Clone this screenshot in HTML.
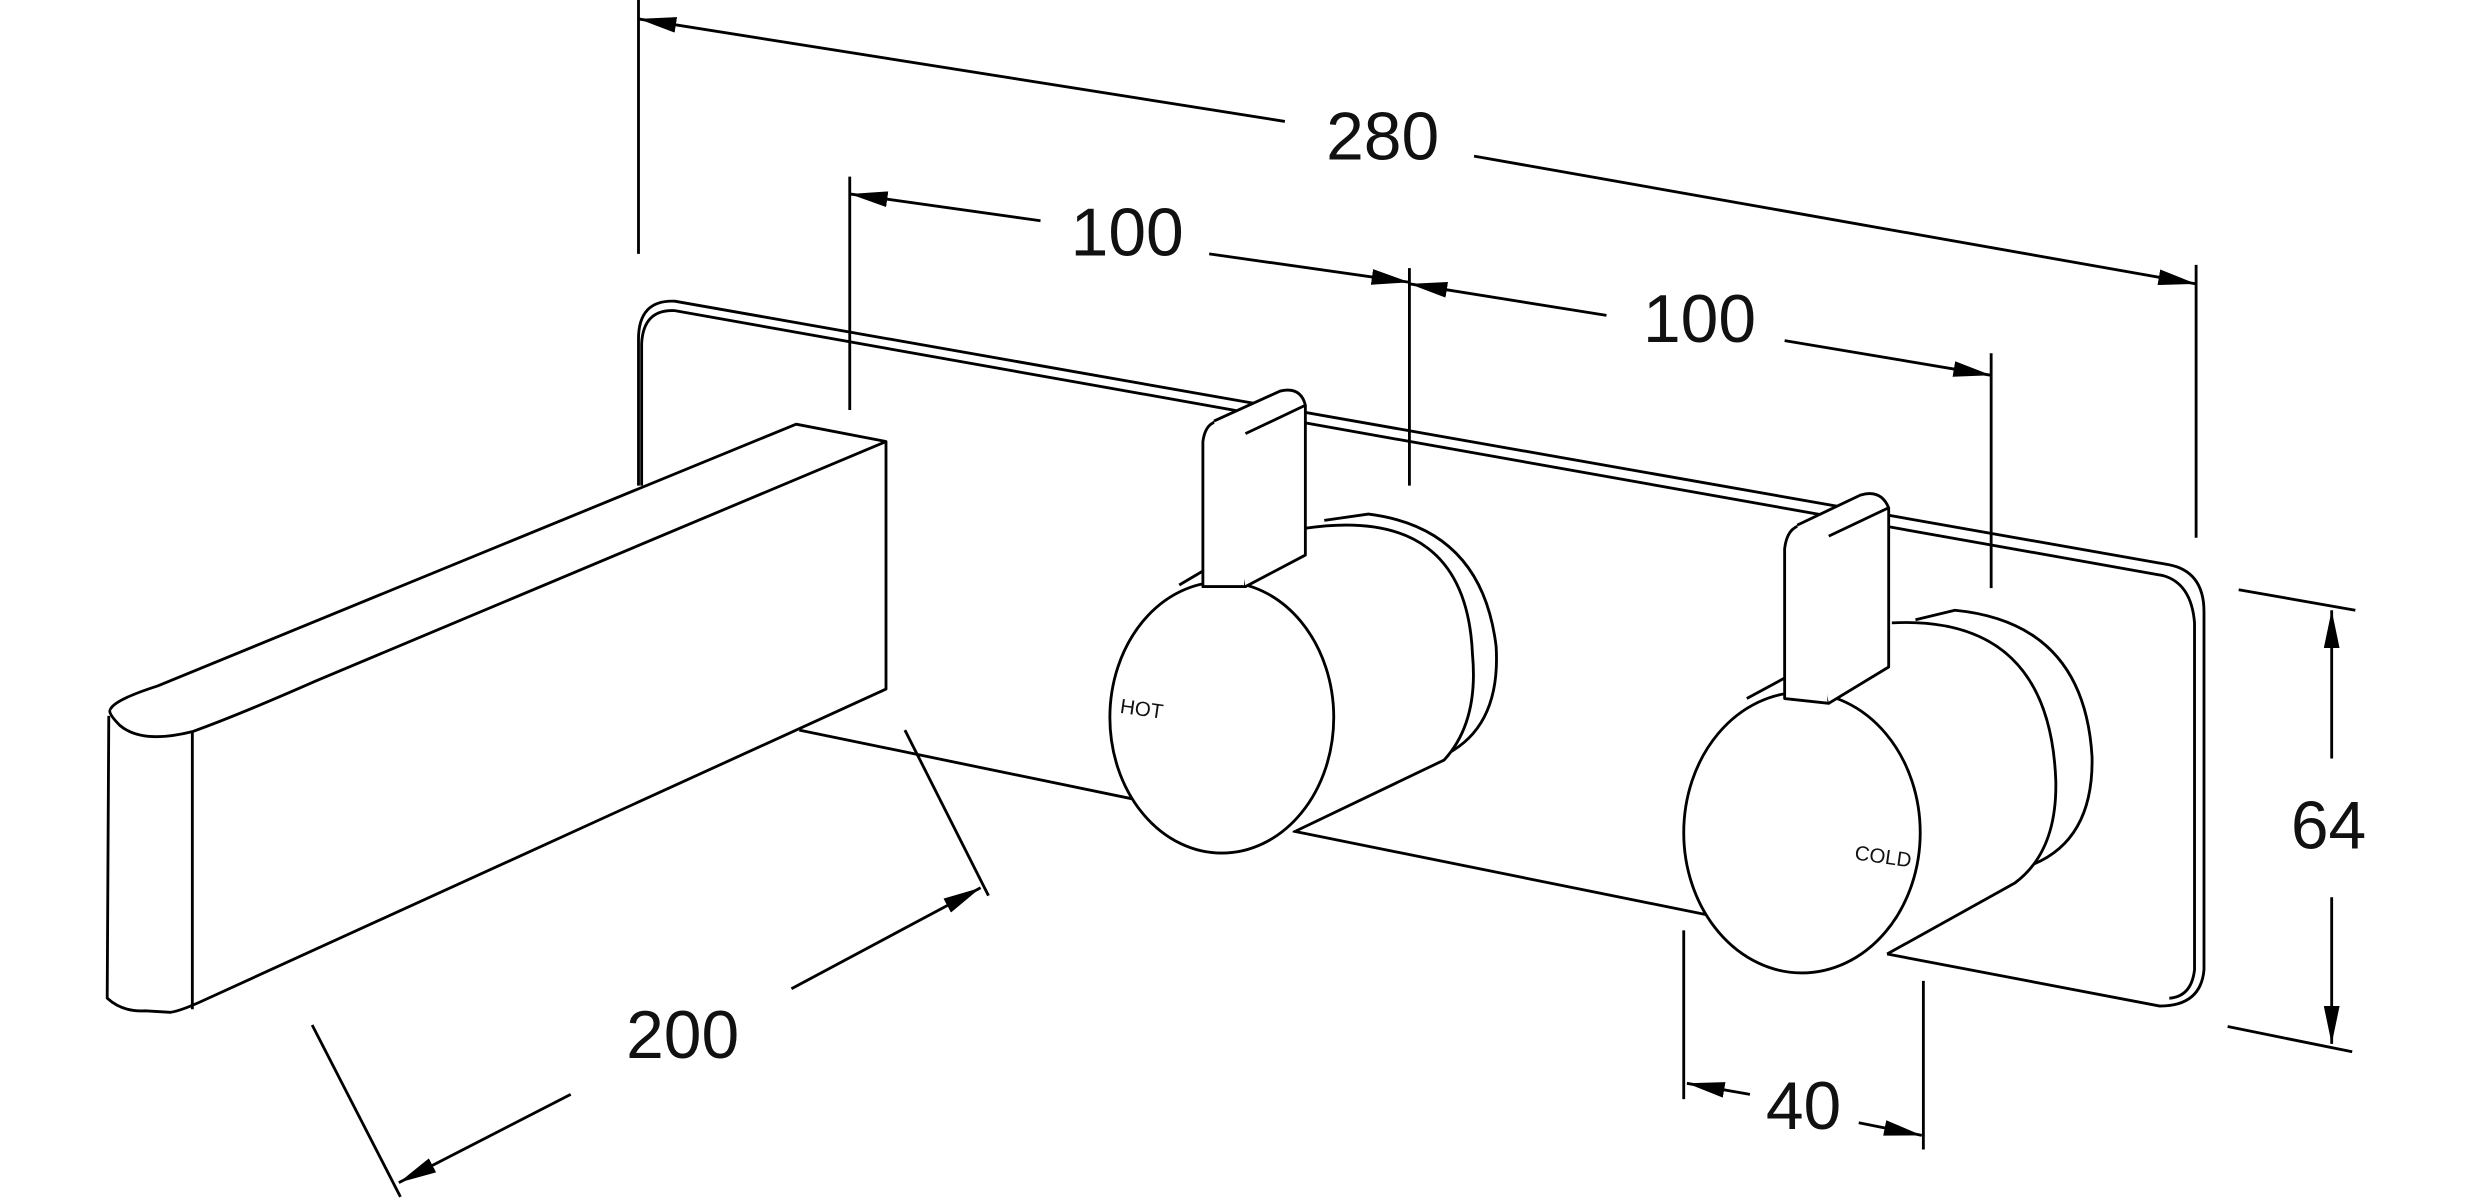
<!DOCTYPE html>
<html><head><meta charset="utf-8"><style>
html,body{margin:0;padding:0;background:#fff;}
svg{display:block;}
text{font-family:"Liberation Sans",sans-serif;font-weight:300;fill:#111;}
</style></head><body>
<svg width="2472" height="1200" viewBox="0 0 1568 761" preserveAspectRatio="none" xmlns="http://www.w3.org/2000/svg">
<defs>
<marker id="a" markerWidth="12" markerHeight="8" refX="12" refY="4" orient="auto" markerUnits="userSpaceOnUse" viewBox="0 0 12 8">
<path d="M0,0 L12,4 L0,8 z" fill="#000"/></marker>
<marker id="b" markerWidth="24" markerHeight="10" refX="24" refY="5" orient="auto" markerUnits="userSpaceOnUse" viewBox="0 0 24 10">
<path d="M0,0 L24,5 L0,10 z" fill="#000"/></marker>
</defs>
<g fill="none" stroke="#000" stroke-width="1.8" stroke-linejoin="round">
<!-- dimension 280 -->
<line x1="405" y1="0" x2="405" y2="161"/>
<line x1="1393" y1="168" x2="1393" y2="341"/>
<line x1="815" y1="77" x2="405" y2="12" marker-end="url(#b)"/>
<line x1="935" y1="99" x2="1393" y2="180" marker-end="url(#b)"/>
<!-- 100 left -->
<line x1="539" y1="112" x2="539" y2="260"/>
<line x1="894" y1="170" x2="894" y2="308"/>
<line x1="660" y1="140" x2="539" y2="123" marker-end="url(#b)"/>
<line x1="767" y1="161" x2="894" y2="179" marker-end="url(#b)"/>
<!-- 100 right -->
<line x1="1263" y1="224" x2="1263" y2="373"/>
<line x1="1019" y1="200" x2="894" y2="180" marker-end="url(#b)"/>
<line x1="1132" y1="216" x2="1263" y2="238" marker-end="url(#b)"/>
<!-- 64 -->
<line x1="1420" y1="374" x2="1494" y2="387"/>
<line x1="1413" y1="651" x2="1492" y2="667"/>
<line x1="1479" y1="481" x2="1479" y2="387" marker-end="url(#b)"/>
<line x1="1479" y1="569" x2="1479" y2="662" marker-end="url(#b)"/>
<!-- 40 -->
<line x1="1068" y1="590" x2="1068" y2="697"/>
<line x1="1220" y1="622" x2="1220" y2="729"/>
<line x1="1110" y1="694" x2="1070" y2="687" marker-end="url(#b)"/>
<line x1="1179" y1="712" x2="1219" y2="720" marker-end="url(#b)"/>
<!-- 200 -->
<line x1="574" y1="463" x2="627" y2="568"/>
<line x1="198" y1="650" x2="254" y2="759"/>
<line x1="362" y1="694" x2="253" y2="750" marker-end="url(#b)"/>
<line x1="502" y1="627" x2="622" y2="563" marker-end="url(#b)"/>

<!-- back plate -->
<path d="M405,308 L405,215 Q405,190 428,191 L1375,358 Q1398,362 1398,388 L1398,615 Q1396,638 1370,638 L1197,605"/>
<path d="M407,308 L407,218 Q408,196 428,197 L1372,365 Q1390,370 1392,395 L1392,615 Q1390,632 1376,633"/>
<line x1="1092" y1="582" x2="820" y2="527"/>
<line x1="725" y1="508" x2="507" y2="463"/>

<!-- spout -->
<path d="M70,450 Q72,444 100,435 L505,269 L562,280 L562,437 L130,634 Q115,641 108,642 L92,641 Q78,642 68,633 L69,454"/>
<path d="M562,280 L200,432 Q150,454 122,464 Q90,472 76,460 Q68,452 70,450"/>
<line x1="122" y1="464" x2="122" y2="640"/>

<!-- hot handle -->
<g fill="#fff">
<path d="M748,372 L790,340 L868,327 Q935,340 948,410 Q950,460 918,478 L820,527 Z" stroke="none"/>
<path d="M840,330 L868,326 Q940,335 949,410 Q952,460 918,478"/>
<path d="M828,335 Q930,320 934,415 Q938,458 916,482 L822,527"/>
<ellipse cx="775" cy="455" rx="71" ry="86"/>
<path d="M748,371 L770,358"/>
<path d="M763,372 L763,280 Q765,265 778,267 Q790,270 790,283 L790,372 Z"/>
<path d="M770,267 L812,248 Q825,245 828,257 L828,352 L790,372 M790,275 L828,257"/>
</g>
<!-- cold handle -->
<g fill="#fff">
<path d="M1110,445 L1160,420 L1240,387 Q1320,395 1327,480 Q1328,530 1290,548 L1197,605 Z" stroke="none"/>
<path d="M1215,393 L1240,387 Q1322,395 1327,480 Q1328,532 1290,548"/>
<path d="M1200,395 Q1300,390 1304,495 Q1305,540 1278,560 L1197,605"/>
<ellipse cx="1143" cy="528" rx="75" ry="89"/>
<path d="M1108,443 L1132,430"/>
<path d="M1132,443 L1132,348 Q1134,331 1148,333 Q1160,336 1160,352 L1160,446 Z"/>
<path d="M1140,333 L1180,314 Q1193,310 1198,322 L1198,423 L1160,446 M1160,340 L1198,322"/>
</g>
</g>
<text x="877" y="101" font-size="43" text-anchor="middle">280</text>
<text x="715" y="162" font-size="43" text-anchor="middle">100</text>
<text x="1078" y="217" font-size="43" text-anchor="middle">100</text>
<text x="1477" y="538" font-size="43" text-anchor="middle">64</text>
<text x="1144" y="716" font-size="43" text-anchor="middle">40</text>
<text x="433" y="671" font-size="43" text-anchor="middle">200</text>
<text x="710" y="452" font-size="13" transform="rotate(8 710 452)">HOT</text>
<text x="1176" y="545" font-size="13" transform="rotate(8 1176 545)">COLD</text>
</svg>
</body></html>
